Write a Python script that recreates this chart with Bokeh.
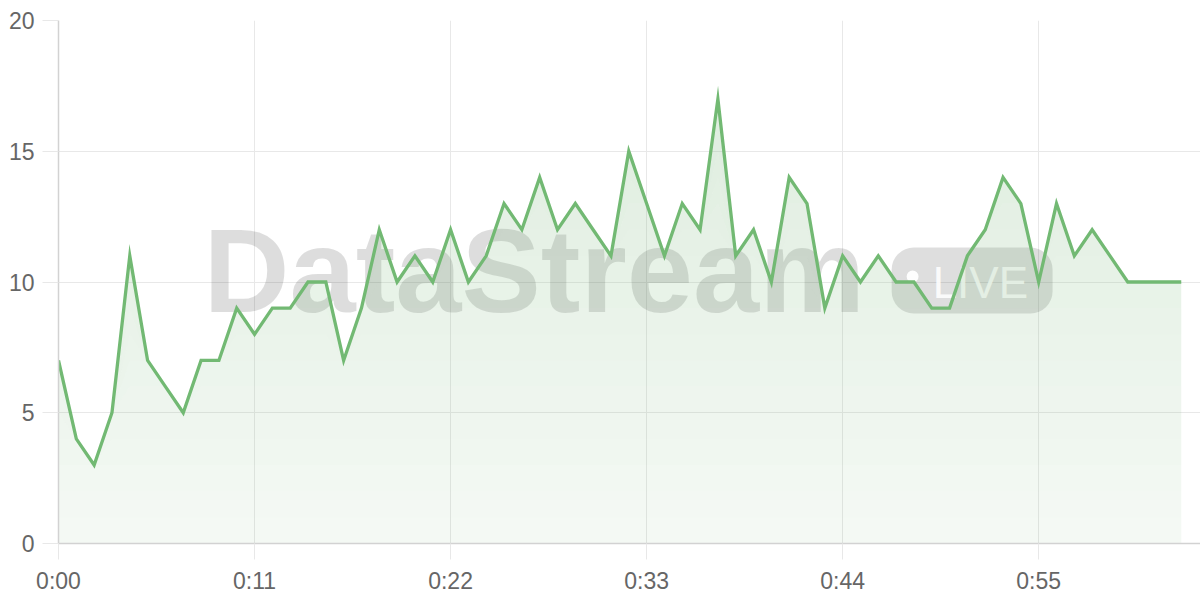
import numpy as np
from bokeh.plotting import figure
from bokeh.models import Range1d, FixedTicker, Label, BoxAnnotation
from bokeh.embed import file_html
from bokeh.resources import INLINE

# ---- data ----
seconds = list(range(64))
values = [7, 4, 3, 5, 11, 7, 6, 5, 7, 7, 9, 8, 9, 9, 10, 10, 7, 9, 12, 10,
          11, 10, 12, 10, 11, 13, 12, 14, 12, 13, 12, 11, 15, 13, 11, 13, 12, 17, 11, 12,
          10, 14, 13, 9, 11, 10, 11, 10, 10, 9, 9, 11, 12, 14, 13, 10, 13, 11, 12, 11,
          10, 10, 10, 10]
x_tick_values = [0, 11, 22, 33, 44, 55]
x_tick_labels = ["0:00", "0:11", "0:22", "0:33", "0:44", "0:55"]
y_tick_values = [0, 5, 10, 15, 20]

LINE = "#72b973"
FILL = "#78b579"
GRID = "#e8e8e8"
AXIS = "#d2d2d2"
LABEL = "#666666"
FONT = "Liberation Sans"

p = figure(width=1200, height=600, output_backend="svg", toolbar_location=None,
           x_range=Range1d(0, 64.08), y_range=Range1d(0, 20),
           min_border_left=58, min_border_right=0, min_border_top=20, min_border_bottom=57)
p.outline_line_color = None
p.background_fill_color = "white"
p.border_fill_color = "white"

# axes
p.xaxis.ticker = FixedTicker(ticks=x_tick_values)
p.xaxis.major_label_overrides = {v: l for v, l in zip(x_tick_values, x_tick_labels)}
p.yaxis.ticker = FixedTicker(ticks=y_tick_values)
for ax in (p.xaxis[0], p.yaxis[0]):
    ax.axis_line_color = AXIS
    ax.axis_line_width = 1.5
    ax.major_tick_line_color = GRID
    ax.major_tick_line_width = 1
    ax.major_tick_in = 0
    ax.major_tick_out = 16
    ax.minor_tick_line_color = None
    ax.major_label_text_font = FONT
    ax.major_label_text_font_size = "23px"
    ax.major_label_text_color = LABEL
p.yaxis.major_label_standoff = 8
p.xaxis.major_label_standoff = 8
p.xgrid.ticker = FixedTicker(ticks=x_tick_values)
p.ygrid.ticker = FixedTicker(ticks=y_tick_values)
p.grid.grid_line_color = GRID
p.grid.grid_line_width = 1

# watermark
p.add_layout(Label(x=8.14, y=10.45, text="DataStream", text_font=FONT, text_font_style="bold",
                   text_font_size="119px", text_color="black", text_alpha=0.135,
                   text_baseline="middle", level="underlay"))
p.add_layout(BoxAnnotation(left=46.75, right=55.78, top=11.32, bottom=8.80,
                           fill_color="black", fill_alpha=0.13, line_color=None,
                           border_radius=22, level="underlay"))
p.add_layout(BoxAnnotation(left=47.59, right=48.26, top=10.44, bottom=9.98,
                           fill_color="white", fill_alpha=0.95, line_color=None,
                           border_radius=6, level="underlay"))
p.add_layout(Label(x=49.05, y=10.0, text="LIVE", text_font=FONT,
                   text_font_size="44px", text_color="white", text_alpha=0.9,
                   text_baseline="middle", level="underlay"))

# vertical gradient fill: non-overlapping horizontal bands, alpha growing with height
vals = np.array(values, dtype=float)
base_alpha = 0.075
top_alpha = 0.27
edges = np.arange(0, 21, 1.0)
for lo, hi in zip(edges[:-1], edges[1:]):
    alpha = base_alpha + (top_alpha - base_alpha) * ((lo + hi) / 2 / 20)
    p.varea(x=seconds, y1=np.minimum(vals, lo), y2=np.minimum(vals, hi),
            fill_color=FILL, fill_alpha=alpha)

# line
p.line(seconds, values, line_color=LINE, line_width=3.3, line_join="miter")

open("out.html", "w").write(file_html(p, INLINE))
